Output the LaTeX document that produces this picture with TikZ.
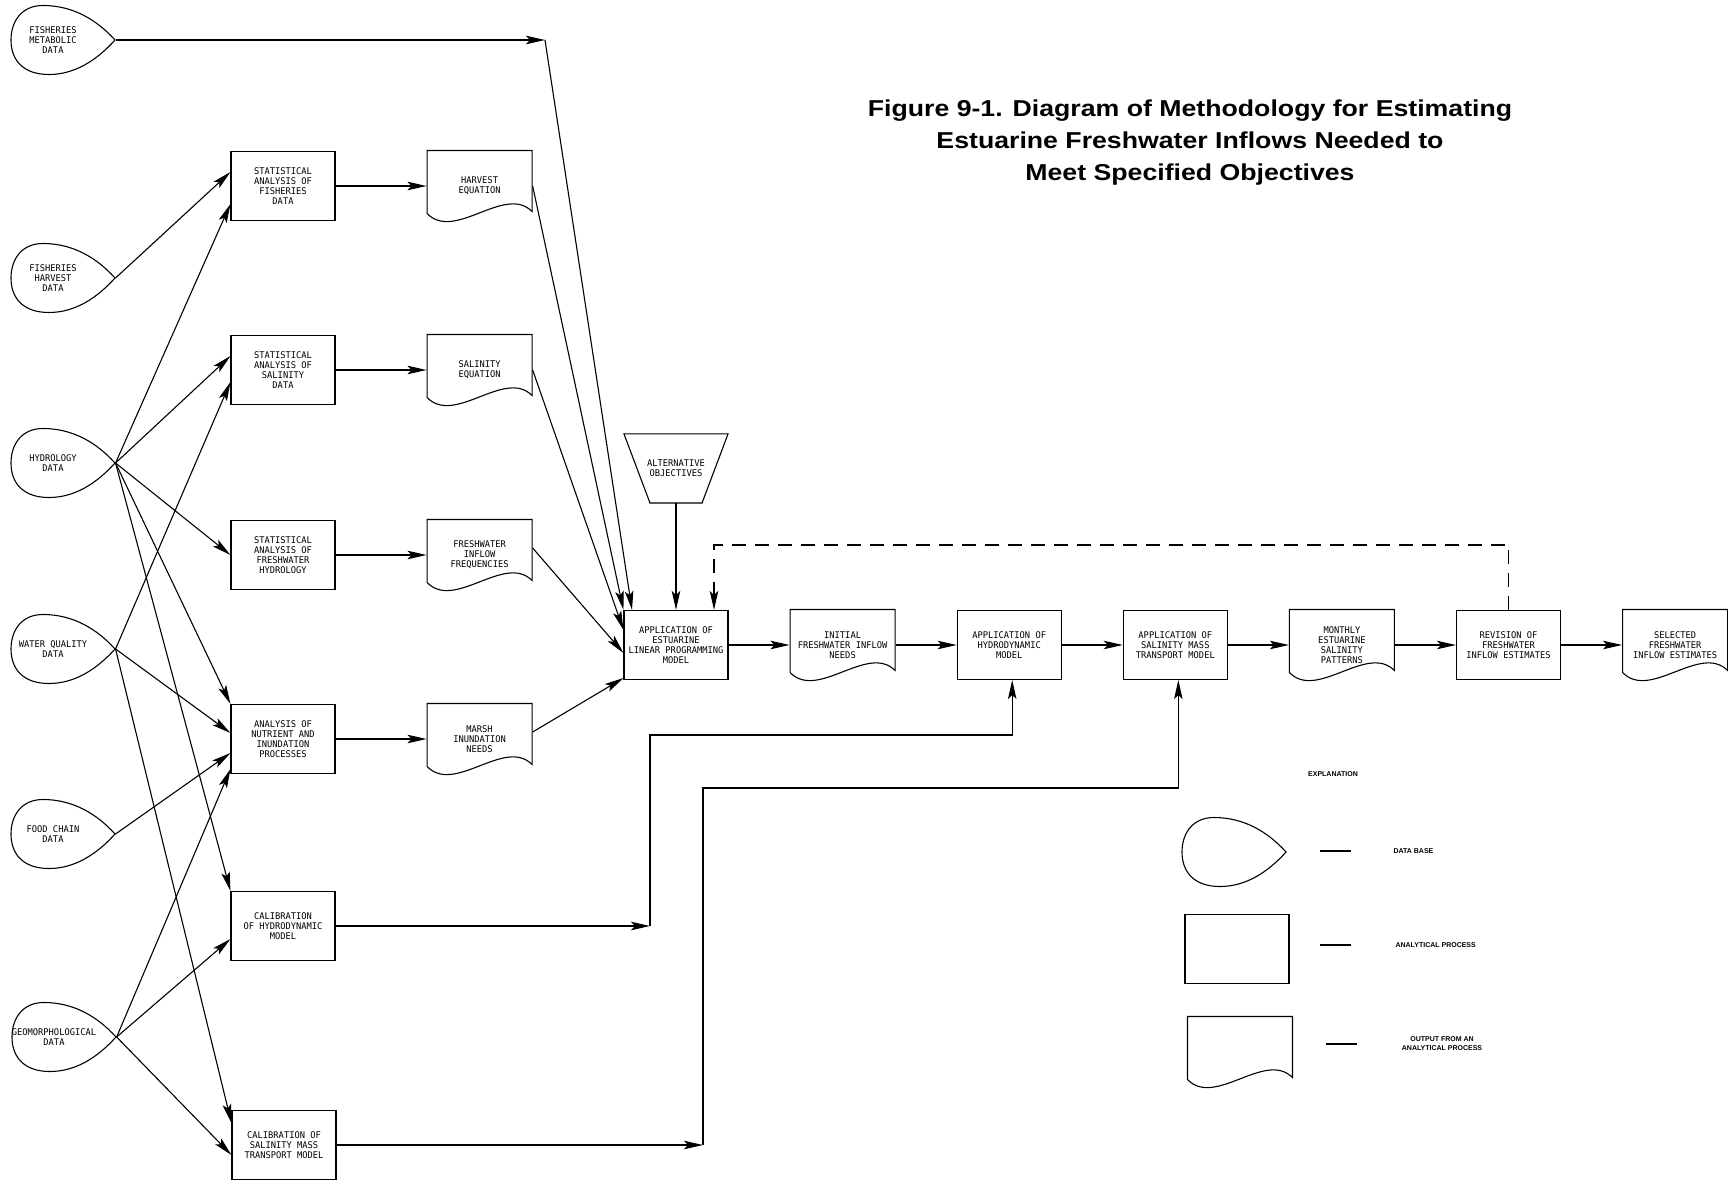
\documentclass[tikz,border=0pt]{standalone}
\usepackage{fontspec}
\usepackage{tikz}
\usetikzlibrary{arrows.meta,positioning}

\newfontfamily\plotfont[FakeStretch=0.95]{DejaVu Sans Mono}
\newfontfamily\headfont[FakeStretch=1.16]{Liberation Sans}
\newfontfamily\keyfont{Liberation Sans}

% outline of a data base (tear drop), tip 20pt right of the node
\newcommand{\dropout}[1]{%
  \coordinate (#1-tip) at ([xshift=20pt]#1.east);
  \draw[shift={(#1.center)}] (62,0) .. controls (44,-20) and (20,-34.5) .. (-10,-34.5)
    .. controls (-32,-34.5) and (-42,-18) .. (-42,0)
    .. controls (-42,20) and (-30,34.5) .. (-4,34.5)
    .. controls (22,34.5) and (44,20) .. (62,0) -- cycle;}
% outline of an output (wavy bottom)
\newcommand{\docout}[1]{%
  \draw[shift={(#1.center)}] (-52.5,-35.5) -- (52.5,-35.5) -- (52.5,25.5)
    .. controls (25,-2) and (-25,56) .. (-52.5,27.5) -- cycle;}

\begin{document}
\begin{tikzpicture}[
    x=1pt, y=-1pt, line width=1.1pt,
    font=\plotfont\fontsize{9.2}{10}\selectfont,
    box/.style={draw, minimum width=104pt, minimum height=69pt, align=center, inner sep=1pt},
    doc/.style={minimum width=105pt, minimum height=71pt, align=center, inner sep=1pt},
    data/.style={minimum width=84pt, minimum height=69pt, align=center, inner sep=0pt},
    arr/.style={-{Stealth[length=19pt,width=8.5pt,inset=4pt]}},
    fb/.style={dash pattern=on 14pt off 9pt},
    key/.style={font=\keyfont\bfseries\fontsize{7}{9}\selectfont, inner sep=0pt, align=center}
  ]
  \useasboundingbox (0,0) rectangle (1728,1182);

  \node[font=\headfont\bfseries\fontsize{23}{32}\selectfont, align=center] (title) at (1190,143)
    {Figure 9-1. Diagram of Methodology for Estimating\\Estuarine Freshwater Inflows Needed to\\Meet Specified Objectives};

  % data bases
  \node[data] (metab) at (53,40) {FISHERIES\\METABOLIC\\DATA};
  \node[data] (harv) at (53,278) {FISHERIES\\HARVEST\\DATA};
  \node[data] (hydro) at (53,463) {HYDROLOGY\\DATA};
  \node[data] (wq) at (53,649) {WATER QUALITY\\DATA};
  \node[data] (food) at (53,834) {FOOD CHAIN\\DATA};
  \node[data] (geo) at (54,1037) {GEOMORPHOLOGICAL\\DATA};
  \foreach \n in {metab,harv,hydro,wq,food,geo} {\dropout{\n}}

  % analytical processes
  \node[box] (statfish) at (283,186) {STATISTICAL\\ANALYSIS OF\\FISHERIES\\DATA};
  \node[box] (statsal) at (283,370) {STATISTICAL\\ANALYSIS OF\\SALINITY\\DATA};
  \node[box] (statfw) at (283,555) {STATISTICAL\\ANALYSIS OF\\FRESHWATER\\HYDROLOGY};
  \node[box] (nutr) at (283,739) {ANALYSIS OF\\NUTRIENT AND\\INUNDATION\\PROCESSES};
  \node[box] (calhyd) at (283,926) {CALIBRATION\\OF HYDRODYNAMIC\\MODEL};
  \node[box] (calsal) at (284,1145) {CALIBRATION OF\\SALINITY MASS\\TRANSPORT MODEL};

  \node[doc, right=91pt of statfish] (harvdoc) {HARVEST\\EQUATION};
  \node[doc, right=91pt of statsal] (saldoc) {SALINITY\\EQUATION};
  \node[doc, right=91pt of statfw] (fwdoc) {FRESHWATER\\INFLOW\\FREQUENCIES};
  \node[doc, right=91pt of nutr] (marshdoc) {MARSH\\INUNDATION\\NEEDS};

  % main line
  \node[box] (appest) at (676,645) {APPLICATION OF\\ESTUARINE\\LINEAR PROGRAMMING\\MODEL};
  \node[doc, right=61pt of appest] (initdoc) {INITIAL\\FRESHWATER INFLOW\\NEEDS};
  \node[box, right=61pt of initdoc] (apphyd) {APPLICATION OF\\HYDRODYNAMIC\\MODEL};
  \node[box, right=61pt of apphyd] (appsal) {APPLICATION OF\\SALINITY MASS\\TRANSPORT MODEL};
  \node[doc, right=61pt of appsal] (monthdoc) {MONTHLY\\ESTUARINE\\SALINITY\\PATTERNS};
  \node[box, right=61pt of monthdoc] (revis) {REVISION OF\\FRESHWATER\\INFLOW ESTIMATES};
  \node[doc, right=61pt of revis] (seldoc) {SELECTED\\FRESHWATER\\INFLOW ESTIMATES};
  \foreach \n in {harvdoc,saldoc,fwdoc,marshdoc,initdoc,monthdoc,seldoc} {\docout{\n}}

  \node[minimum width=103pt, minimum height=68pt, align=center, above=107pt of appest] (alt) {ALTERNATIVE\\OBJECTIVES};
  \draw (alt.north west) -- (alt.north east) -- ([xshift=-26pt]alt.south east) -- ([xshift=26pt]alt.south west) -- cycle;

  \coordinate (mcorner) at (545,40);
  \coordinate (hbend) at (650,735);
  \coordinate (sbend) at (703,788);

  % data bases to processes
  \draw[arr] (metab-tip) -- (mcorner);
  \draw[arr] (mcorner) -- ([xshift=-44pt]appest.north);
  \draw[arr] (harv-tip) -- ([yshift=14pt]statfish.west);
  \draw[arr] (hydro-tip) -- ([yshift=-18pt]statfish.west);
  \draw[arr] (hydro-tip) -- ([yshift=14pt]statsal.west);
  \draw[arr] (wq-tip) -- ([yshift=-12pt]statsal.west);
  \draw[arr] (hydro-tip) -- (statfw.west);
  \draw[arr] (hydro-tip) -- (nutr.north west);
  \draw[arr] (wq-tip) -- ([yshift=6pt]nutr.west);
  \draw[arr] (food-tip) -- ([yshift=-14pt]nutr.west);
  \draw[arr] (geo-tip) -- ([yshift=-30pt]nutr.west);
  \draw[arr] (hydro-tip) -- (calhyd.north west);
  \draw[arr] (geo-tip) -- ([yshift=-13pt]calhyd.west);
  \draw[arr] (wq-tip) -- ([yshift=22pt]calsal.west);
  \draw[arr] (geo-tip) -- ([yshift=-10pt]calsal.west);

  \draw[arr] (statfish) -- (harvdoc);
  \draw[arr] (statsal) -- (saldoc);
  \draw[arr] (statfw) -- (fwdoc);
  \draw[arr] (nutr) -- (marshdoc);

  \draw[arr] (harvdoc.east) -- (appest.north west);
  \draw[arr] (saldoc.east) -- ([yshift=15pt]appest.west);
  \draw[arr] ([yshift=7pt]fwdoc.east) -- ([yshift=-8pt]appest.west);
  \draw[arr] ([yshift=7pt]marshdoc.east) -- ([yshift=-33pt]appest.west);
  \draw[arr] (alt.south) -- (appest.north);

  \draw[arr] (appest) -- (initdoc);
  \draw[arr] (initdoc) -- (apphyd);
  \draw[arr] (apphyd) -- (appsal);
  \draw[arr] (appsal) -- (monthdoc);
  \draw[arr] (monthdoc) -- (revis);
  \draw[arr] (revis) -- (seldoc);
  \draw[arr, fb] (revis.north) |- ([xshift=38pt, yshift=65pt]appest.north) -- ([xshift=38pt]appest.north);

  \draw[arr] (calhyd.east) -- (calhyd.east -| hbend);
  \draw[arr] (calhyd.east -| hbend) -- (hbend) -| ([xshift=3pt]apphyd.south);
  \draw[arr] (calsal.east) -- (calsal.east -| sbend);
  \draw[arr] (calsal.east -| sbend) -- (sbend) -| ([xshift=3pt]appsal.south);

  % explanation
  \node[key] (expl) at (1333,774) {EXPLANATION};
  \node[data] (lgdrop) at (1224,852) {};
  \dropout{lgdrop}
  \node[box] (lgproc) at (1237,949) {};
  \node[doc] (lgdoc) at (1240,1052) {};
  \docout{lgdoc}
  \node[key, anchor=west] (lgdb) at (1393,851) {DATA BASE};
  \node[key, anchor=west] (lgap) at (1395,945) {ANALYTICAL PROCESS};
  \node[key] (lgout) at (1442,1044) {OUTPUT FROM AN\\ANALYTICAL PROCESS};
  \draw ([xshift=-42pt]lgdb.west) -- ([xshift=-73pt]lgdb.west);
  \draw ([xshift=-44pt]lgap.west) -- ([xshift=-75pt]lgap.west);
  \draw ([xshift=-44pt]lgout.west) -- ([xshift=-75pt]lgout.west);
\end{tikzpicture}
\end{document}
